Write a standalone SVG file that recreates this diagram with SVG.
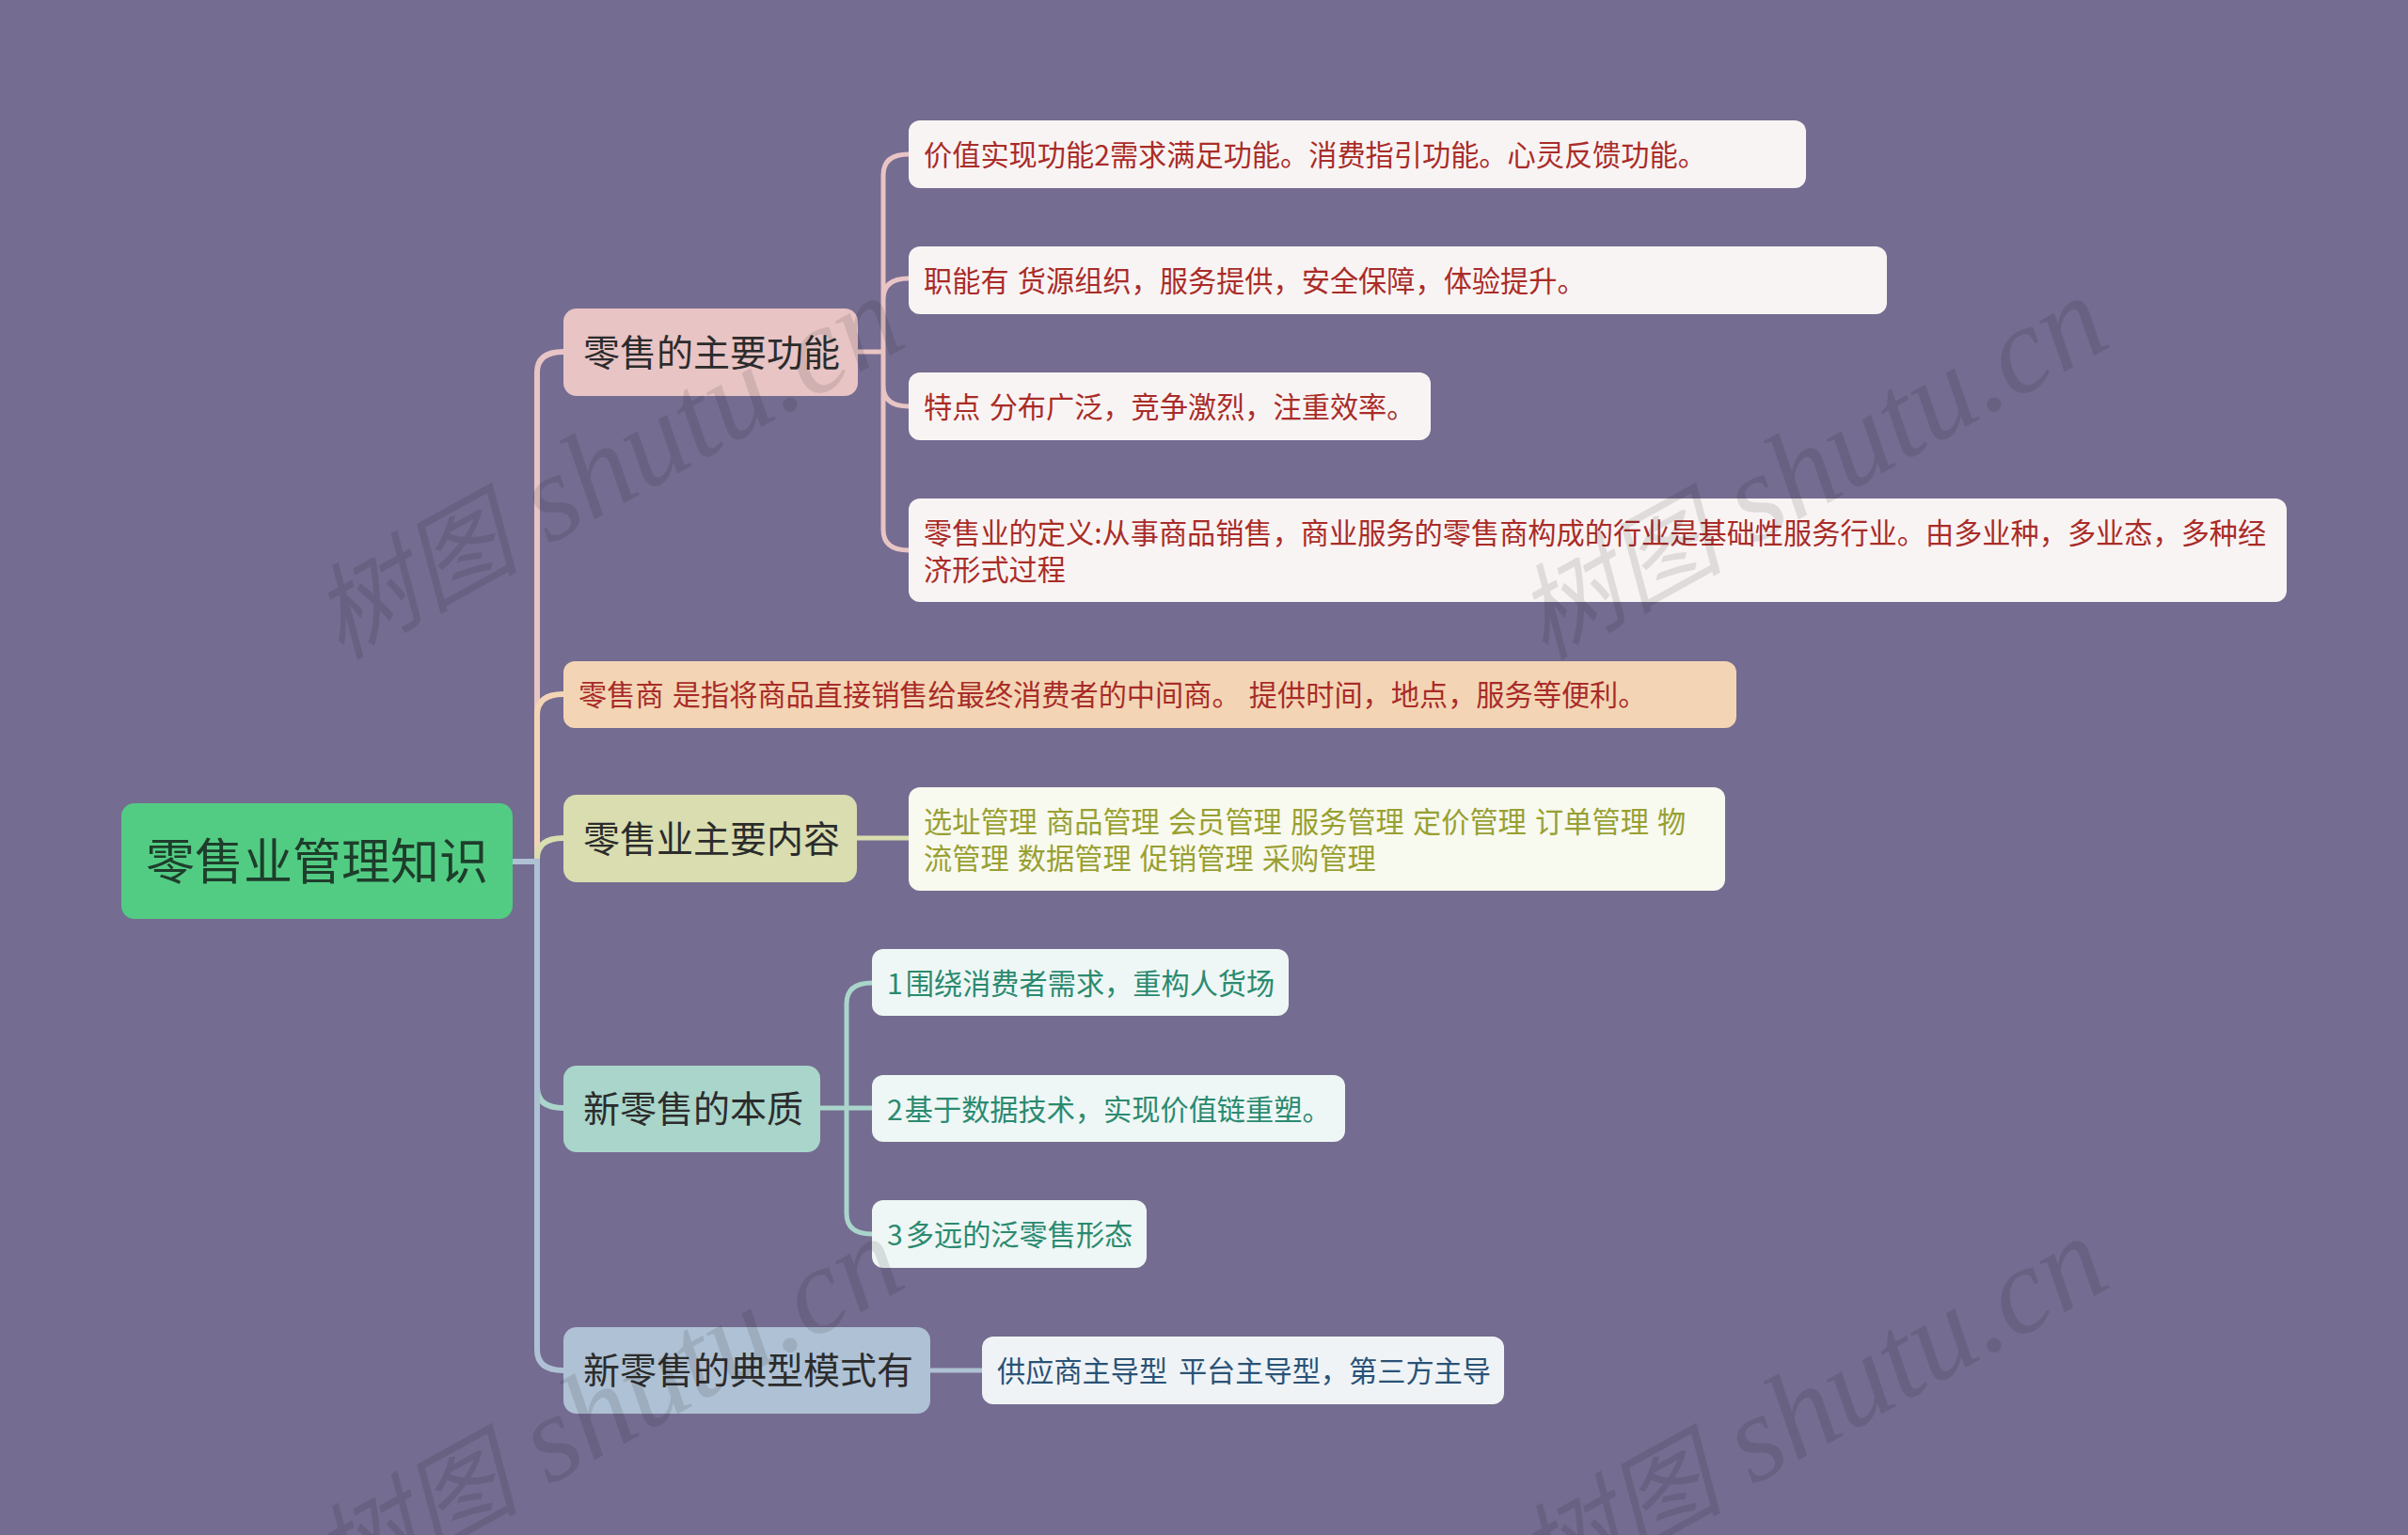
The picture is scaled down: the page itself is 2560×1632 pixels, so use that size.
<svg xmlns="http://www.w3.org/2000/svg" width="2560" height="1632" viewBox="0 0 2560 1632">
<style>
text{font-family:"Noto Sans CJK SC","Noto Sans",sans-serif;font-weight:400}
.c{fill:none;stroke-linecap:butt}
.t{stroke-width:6}.s{stroke-width:5}
.root{font-size:52px;fill:#1e3d2b;font-weight:400}
.b{font-size:39px;fill:#2c2c2c}
.l{font-size:30.2px;word-spacing:2.5px}
.red{fill:#a92c28}.oli{fill:#98a031}.grn{fill:#2b8a70}.blu{fill:#2a5276}
.wm{font-family:"Liberation Serif","Noto Sans CJK SC",serif;font-style:italic;font-size:131px;font-weight:400;fill:#000;fill-opacity:.1}
.wc{font-size:110px}
</style>
<rect width="2560" height="1632" fill="#756c91"/>
<g id="connectors">
<path class="c s" stroke="#e8c4c4" d="M912 374H939V186Q939 164 966 164M912 374H939V318Q939 296 966 296M912 374H939V410Q939 432 966 432M912 374H939V563Q939 585 966 585"/>
<path class="c s" stroke="#d9ddaf" d="M911 891H966"/>
<path class="c s" stroke="#a9d5cb" d="M872 1178H900V1067Q900 1045 927 1045M872 1178H927M872 1178H900V1290Q900 1312 927 1312"/>
<path class="c s" stroke="#afc1d4" d="M989 1457H1044"/>
<path class="c t" stroke="#e8c4c4" d="M571 916V396Q571 374 599 374"/>
<path class="c t" stroke="#f3d5b5" d="M571 916V760Q571 738 599 738"/>
<path class="c t" stroke="#d9ddaf" d="M571 916V913Q571 891 599 891"/>
<path class="c t" stroke="#a9d5cb" d="M571 916V1156Q571 1178 599 1178"/>
<path class="c t" stroke="#afc1d4" d="M545 916H571V1435Q571 1457 599 1457"/>
</g>
<g id="root"><rect x="129" y="854" width="416" height="123" rx="14" fill="#52cc83"/><text class="root" x="155" y="935">零售业管理知识</text></g>
<g id="b1"><rect x="599" y="328" width="313" height="93" rx="14" fill="#e8c4c4"/><text class="b" x="620" y="389">零售的主要功能</text></g>
<g id="l1"><rect x="966" y="128" width="954" height="72" rx="12" fill="#f9f4f4"/><text class="l red" x="982" y="176">价值实现功能2需求满足功能。消费指引功能。心灵反馈功能。</text></g>
<g id="l2"><rect x="966" y="262" width="1040" height="72" rx="12" fill="#f9f4f4"/><text class="l red" x="982" y="310">职能有 货源组织，服务提供，安全保障，体验提升。</text></g>
<g id="l3"><rect x="966" y="396" width="555" height="72" rx="12" fill="#f9f4f4"/><text class="l red" x="982" y="444">特点 分布广泛，竞争激烈，注重效率。</text></g>
<g id="l4"><rect x="966" y="530" width="1465" height="110" rx="12" fill="#f9f4f4"/><text class="l red" x="982" y="578">零售业的定义:从事商品销售，商业服务的零售商构成的行业是基础性服务行业。由多业种，多业态，多种经</text><text class="l red" x="982" y="617">济形式过程</text></g>
<g id="b2"><rect x="599" y="703" width="1247" height="71" rx="12" fill="#f3d5b5"/><text class="l red" x="615" y="750">零售商 是指将商品直接销售给最终消费者的中间商。 提供时间，地点，服务等便利。</text></g>
<g id="b3"><rect x="599" y="845" width="312" height="93" rx="14" fill="#d9ddaf"/><text class="b" x="620" y="906">零售业主要内容</text></g>
<g id="l5"><rect x="966" y="837" width="868" height="110" rx="12" fill="#f8f9ef"/><text class="l oli" x="982" y="885">选址管理 商品管理 会员管理 服务管理 定价管理 订单管理 物</text><text class="l oli" x="982" y="924">流管理 数据管理 促销管理 采购管理</text></g>
<g id="b4"><rect x="599" y="1133" width="273" height="92" rx="14" fill="#a9d5cb"/><text class="b" x="620" y="1193">新零售的本质</text></g>
<g id="l6"><rect x="927" y="1009" width="443" height="71" rx="12" fill="#eef7f5"/><text class="l grn" x="943" y="1057">1<tspan dx="3">围绕消费者需求，重构人货场</tspan></text></g>
<g id="l7"><rect x="927" y="1143" width="503" height="71" rx="12" fill="#eef7f5"/><text class="l grn" x="943" y="1191">2<tspan dx="2">基于数据技术，实现价值链重塑。</tspan></text></g>
<g id="l8"><rect x="927" y="1276" width="292" height="72" rx="12" fill="#eef7f5"/><text class="l grn" x="943" y="1324">3<tspan dx="3">多远的泛零售形态</tspan></text></g>
<g id="b5"><rect x="599" y="1411" width="390" height="92" rx="14" fill="#afc1d4"/><text class="b" x="620" y="1471">新零售的典型模式有</text></g>
<g id="l9"><rect x="1044" y="1421" width="555" height="72" rx="12" fill="#eff3f6"/><text class="l blu" x="1060" y="1469" style="word-spacing:5px">供应商主导型 平台主导型，第三方主导</text></g>
<g id="watermark">
<text class="wm" transform="translate(362 702) rotate(-29)"><tspan class="wc">树图</tspan> shutu.cn</text>
<text class="wm" transform="translate(1642 702) rotate(-29)"><tspan class="wc">树图</tspan> shutu.cn</text>
<text class="wm" transform="translate(362 1702) rotate(-29)"><tspan class="wc">树图</tspan> shutu.cn</text>
<text class="wm" transform="translate(1642 1702) rotate(-29)"><tspan class="wc">树图</tspan> shutu.cn</text>
</g>
</svg>
